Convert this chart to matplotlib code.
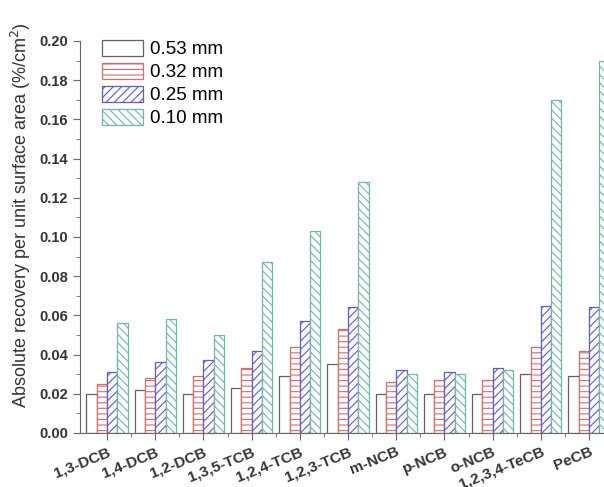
import matplotlib.pyplot as plt
import matplotlib.transforms as mtransforms
import numpy as np
from matplotlib.ticker import MultipleLocator

compounds = ['1,3-DCB', '1,4-DCB', '1,2-DCB', '1,3,5-TCB', '1,2,4-TCB', '1,2,3-TCB',
             'm-NCB', 'p-NCB', 'o-NCB', '1,2,3,4-TeCB', 'PeCB']
labels = ['0.53 mm', '0.32 mm', '0.25 mm', '0.10 mm']
d053 = [0.020, 0.022, 0.020, 0.023, 0.029, 0.035, 0.020, 0.020, 0.020, 0.030, 0.029]
d032 = [0.025, 0.028, 0.029, 0.033, 0.044, 0.053, 0.026, 0.027, 0.027, 0.044, 0.042]
d025 = [0.031, 0.036, 0.037, 0.042, 0.057, 0.064, 0.032, 0.031, 0.033, 0.065, 0.064]
d010 = [0.056, 0.058, 0.050, 0.087, 0.103, 0.128, 0.030, 0.030, 0.032, 0.170, 0.190]

plt.rcParams['font.family'] = 'Liberation Sans'
plt.rcParams['hatch.linewidth'] = 0.8

fig = plt.figure(figsize=(6.04, 4.87), dpi=100)
ax = fig.add_axes([0.1325, 0.111, 0.8675, 0.805])

x = np.arange(len(compounds))
w = 0.214
series = [d053, d032, d025, d010]
edges = ['#6e5a5a', '#e06a6a', '#5a5ad8', '#6fb5aa']
hatches = ['', '---', '////', '\\\\\\\\']
for i, vals in enumerate(series):
    ax.bar(x + (i - 1.5) * w, vals, w, facecolor='white', edgecolor=edges[i],
           hatch=hatches[i], linewidth=0.9, label=labels[i])

ax.set_xlim(-0.56, 10.31)
ax.set_ylim(0, 0.20)
ax.set_xticks(x)
ax.set_xticklabels(compounds, rotation=22, ha='right', rotation_mode='anchor',
                   fontsize=11, fontweight='bold', color='#333333')
# nudge the rotated labels a little to the right, as in the original
offset = mtransforms.ScaledTranslation(5 / 100, -1 / 100, fig.dpi_scale_trans)
for lab in ax.get_xticklabels():
    lab.set_transform(lab.get_transform() + offset)
ax.set_xticks(x[:-1] + 0.5, minor=True)
ax.yaxis.set_major_locator(MultipleLocator(0.02))
ax.yaxis.set_minor_locator(MultipleLocator(0.01))
ax.set_yticks(np.arange(0, 0.201, 0.02))
ax.set_yticklabels(['%.2f' % v for v in np.arange(0, 0.201, 0.02)],
                   fontsize=10.5, fontweight='bold', color='#333333')
ax.tick_params(which='major', direction='out', length=5, color='#666666')
ax.tick_params(which='minor', direction='out', length=3, color='#666666')
ax.spines['top'].set_visible(False)
ax.spines['right'].set_visible(False)
ax.spines['left'].set_color('#666666')
ax.spines['bottom'].set_color('#666666')

ax.set_ylabel('Absolute recovery per unit surface area (%/cm$^2$)', fontsize=13,
              color='#333333')
ax.yaxis.set_label_coords(-0.09, 0.555)

ax.legend(loc='upper left', bbox_to_anchor=(0.01, 1.045), frameon=False, fontsize=13.5,
          handlelength=2.2, handleheight=0.9, labelspacing=0.25, handletextpad=0.35)

fig.savefig('out.png', dpi=100)
